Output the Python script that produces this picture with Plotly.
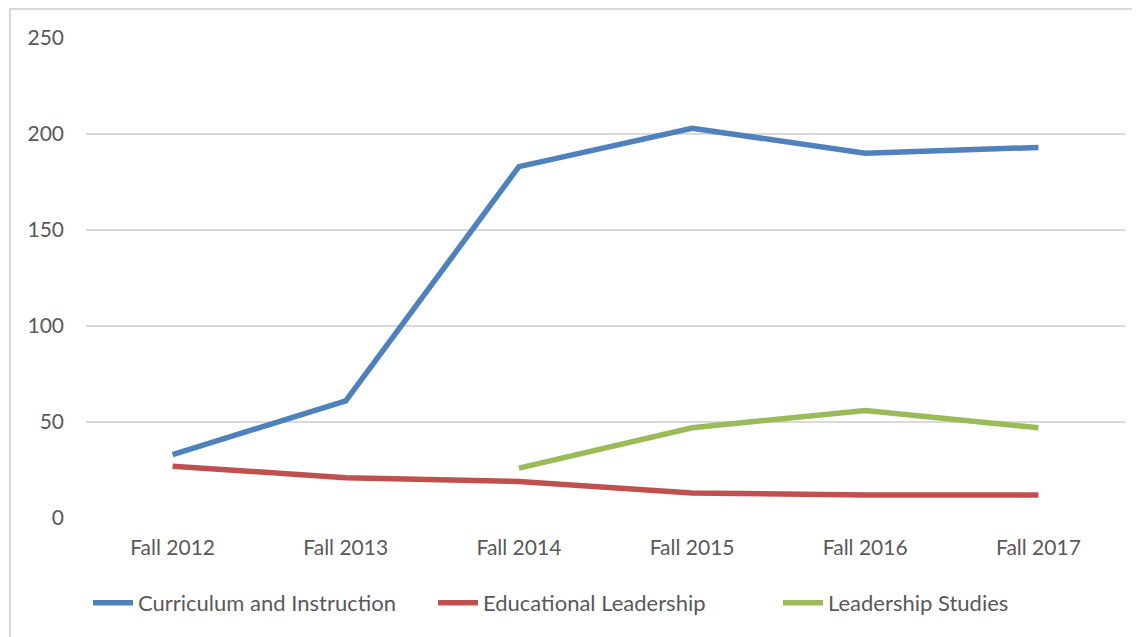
import plotly.graph_objects as go

categories = ["Fall 2012", "Fall 2013", "Fall 2014", "Fall 2015", "Fall 2016", "Fall 2017"]
curriculum = [33, 61, 183, 203, 190, 193]
educational = [27, 21, 19, 13, 12, 12]
leadership = [None, None, 26, 47, 56, 47]
y_ticks = [0, 50, 100, 150, 200, 250]

fig = go.Figure()
fig.add_trace(go.Scatter(x=categories, y=curriculum, mode="lines", name="Curriculum and Instruction",
                         line=dict(color="#4F81BD", width=5.5)))
fig.add_trace(go.Scatter(x=categories, y=educational, mode="lines", name="Educational Leadership",
                         line=dict(color="#C0504D", width=5.5)))
fig.add_trace(go.Scatter(x=categories, y=leadership, mode="lines", name="Leadership Studies",
                         line=dict(color="#9BBB59", width=5.5), connectgaps=False))

fig.update_layout(
    width=1140, height=637,
    margin=dict(l=78, r=23, t=30, b=127),
    paper_bgcolor="white", plot_bgcolor="white",
    font=dict(family="Lato, Open Sans, sans-serif", size=21, color="#595959"),
    showlegend=True,
    legend=dict(orientation="h", x=0.5, xanchor="center", y=-0.177, yanchor="middle",
                font=dict(size=22, color="#595959"), itemwidth=40, tracegroupgap=0,
                entrywidth=290, entrywidthmode="pixels"),
    xaxis=dict(type="category", range=[-0.5, 5.5], showgrid=False, zeroline=False,
               showline=False, ticks="", ticklabelstandoff=15,
               tickfont=dict(size=21, color="#595959")),
    yaxis=dict(range=[0, 250], tickvals=y_ticks, showgrid=True, gridcolor="#D9D9D9", gridwidth=1.5,
               zeroline=False, showline=False, ticks="", ticklabelstandoff=21,
               tickfont=dict(size=21, color="#595959")),
    shapes=[dict(type="rect", xref="paper", yref="paper",
                 x0=(10 - 86) / 1039, x1=1.2, y0=-0.6, y1=(518 - 9) / 480,
                 line=dict(color="#D9D9D9", width=2), fillcolor="rgba(0,0,0,0)", layer="below")],
)

fig.write_html("out.html")
